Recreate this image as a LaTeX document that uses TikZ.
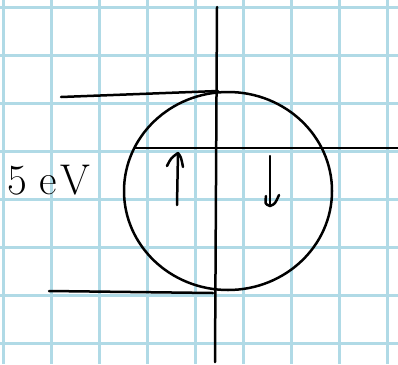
\documentclass[tikz,border=0pt]{standalone}
\definecolor{gridblue}{RGB}{176,218,230}
\tikzset{
  gridline/.style={draw=gridblue,line width=3pt},
  ink/.style={draw=black,line width=2.5pt,line cap=round,line join=round},
}
\begin{document}
\begin{tikzpicture}[x=1pt,y=-1pt]
\useasboundingbox (0,0) rectangle (398,364);
\fill[white] (0,0) rectangle (398,364);
% grid
\foreach \i in {0,...,8} {\draw[gridline] (3+48*\i,0) -- (3+48*\i,364);}
\foreach \j in {0,...,7} {\draw[gridline] (0,7+48*\j) -- (398,7+48*\j);}
% axes
\coordinate (vtop) at (217,7);
\coordinate (vbot) at (215,362);
\coordinate (hl) at (135,148);
\coordinate (hr) at (398,148);
\draw[ink] (vtop) -- (vbot);
\draw[ink] (hl) -- (hr);
% circle
\coordinate (c) at (228,191);
\draw[ink] (c) ellipse [x radius=104, y radius=99];
% level lines
\coordinate (t1) at (61,97);
\coordinate (t2) at (218,91);
\coordinate (b1) at (49,291);
\coordinate (b2) at (213,293);
\draw[ink] (t1) -- (t2);
\draw[ink] (b1) -- (b2);
% up arrow
\coordinate (ua) at (177,205);
\coordinate (ub) at (178,153);
\draw[ink] (ua) -- (ub);
\draw[ink] (167,166) .. controls (171,158) .. (ub) .. controls (181,157) .. (183,167);
% down arrow
\coordinate (da) at (270,156);
\coordinate (db) at (270,206);
\draw[ink] (da) -- (db);
\draw[ink] (266,196) .. controls (265,204) .. (db) .. controls (275,204) .. (279,195);
% label
\node[font=\fontsize{43}{43}\selectfont,anchor=base west,inner sep=0pt] (lab) at (7,194) {5\hspace{13pt}e\hspace{3pt}V};
\end{tikzpicture}
\end{document}
